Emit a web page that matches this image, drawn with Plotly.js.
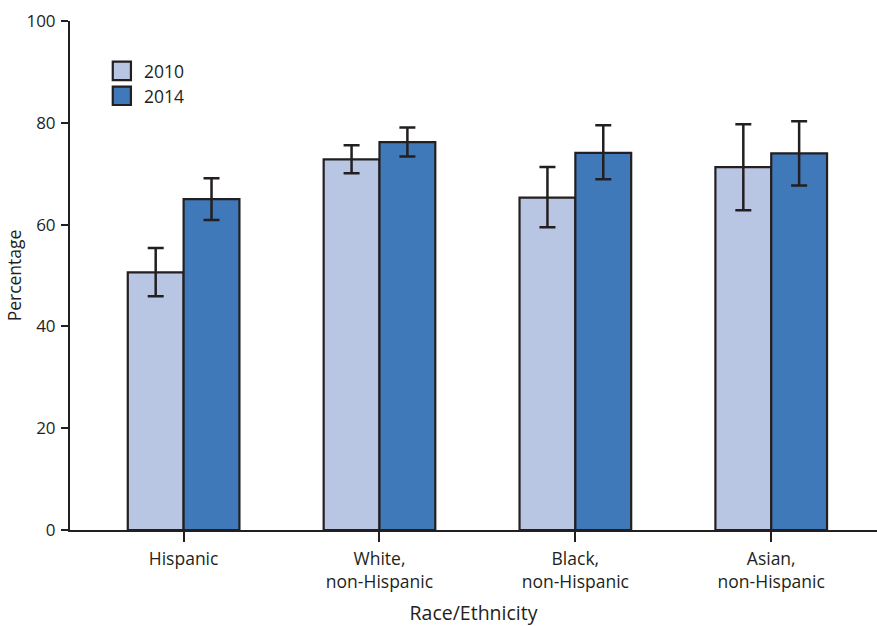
<!DOCTYPE html>
<html>
<head>
<meta charset="utf-8">
<script src="https://cdn.plot.ly/plotly-3.0.1.min.js"></script>
<style>html,body{margin:0;padding:0;background:#fff;}</style>
</head>
<body>
<div id="chart" style="width:877px;height:626px;"></div>
<script>
const categories = ["Hispanic", "White,<br>non-Hispanic", "Black,<br>non-Hispanic", "Asian,<br>non-Hispanic"];
const seriesNames = ["2010", "2014"];
const values2010 = [50.6, 72.8, 65.3, 71.3];
const upper2010 = [55.4, 75.6, 71.3, 79.7];
const lower2010 = [45.9, 70.1, 59.5, 62.8];
const values2014 = [65.0, 76.2, 74.1, 74.0];
const upper2014 = [69.1, 79.1, 79.5, 80.3];
const lower2014 = [60.9, 73.4, 68.9, 67.7];
const yTicks = [0, 20, 40, 60, 80, 100];

const FONT = "'Open Sans', 'Liberation Sans', sans-serif";
const INK = "#231f20";
const COLORS = ["#b8c6e3", "#3f79ba"];

function errs(v, hi, lo) {
  return {
    type: "data", symmetric: false,
    array: v.map((x, i) => +(hi[i] - x).toFixed(2)),
    arrayminus: v.map((x, i) => +(x - lo[i]).toFixed(2)),
    color: INK, thickness: 2.5, width: 8
  };
}

const xs = categories.map((_, i) => i);
const traces = [
  { type: "bar", name: seriesNames[0], x: xs, y: values2010,
    marker: { color: COLORS[0], line: { color: INK, width: 2.2 } },
    error_y: errs(values2010, upper2010, lower2010) },
  { type: "bar", name: seriesNames[1], x: xs, y: values2014,
    marker: { color: COLORS[1], line: { color: INK, width: 2.2 } },
    error_y: errs(values2014, upper2014, lower2014) }
];

// Custom legend (boxes + labels) placed in paper coordinates
const legX = 0.053, legY0 = 0.92, legStep = 0.049, boxW = 0.0225, boxH = 0.036;
const shapes = [], annotations = [];
seriesNames.forEach((nm, i) => {
  const yTop = legY0 - i * legStep;
  shapes.push({ type: "rect", xref: "paper", yref: "paper",
    x0: legX, x1: legX + boxW, y0: yTop - boxH, y1: yTop,
    fillcolor: COLORS[i], line: { color: INK, width: 2.2 } });
  annotations.push({ xref: "paper", yref: "paper", x: legX + boxW + 0.014, y: yTop - boxH / 2,
    xanchor: "left", yanchor: "middle", text: nm, showarrow: false,
    font: { family: FONT, size: 17.5, color: INK } });
});

const layout = {
  width: 877, height: 626,
  margin: { l: 70, r: 0, t: 21, b: 96 },
  paper_bgcolor: "#fff", plot_bgcolor: "#fff",
  font: { family: FONT, size: 17, color: INK },
  barmode: "group", bargap: 0.43, bargroupgap: 0,
  showlegend: false,
  shapes: shapes, annotations: annotations,
  xaxis: {
    range: [-0.58, 3.54], tickmode: "array", tickvals: xs, ticktext: categories,
    showline: true, linecolor: INK, linewidth: 2, ticks: "outside", ticklen: 10, tickwidth: 2, tickcolor: INK,
    ticklabelstandoff: 2,
    showgrid: false, zeroline: false, fixedrange: true,
    tickfont: { family: FONT, size: 17.5, color: INK },
    title: { text: "Race/Ethnicity", font: { family: FONT, size: 19.5, color: INK }, standoff: 23 }
  },
  yaxis: {
    range: [0, 100], tickmode: "array", tickvals: yTicks,
    showline: true, linecolor: INK, linewidth: 2, ticks: "outside", ticklen: 7, tickwidth: 2, tickcolor: INK,
    ticklabelstandoff: 2,
    showgrid: false, zeroline: false, fixedrange: true,
    tickfont: { family: FONT, size: 17, color: INK },
    title: { text: "Percentage", font: { family: FONT, size: 17.5, color: INK }, standoff: 0 }
  }
};

Plotly.newPlot("chart", traces, layout, { displayModeBar: false, staticPlot: true });
</script>
</body>
</html>
